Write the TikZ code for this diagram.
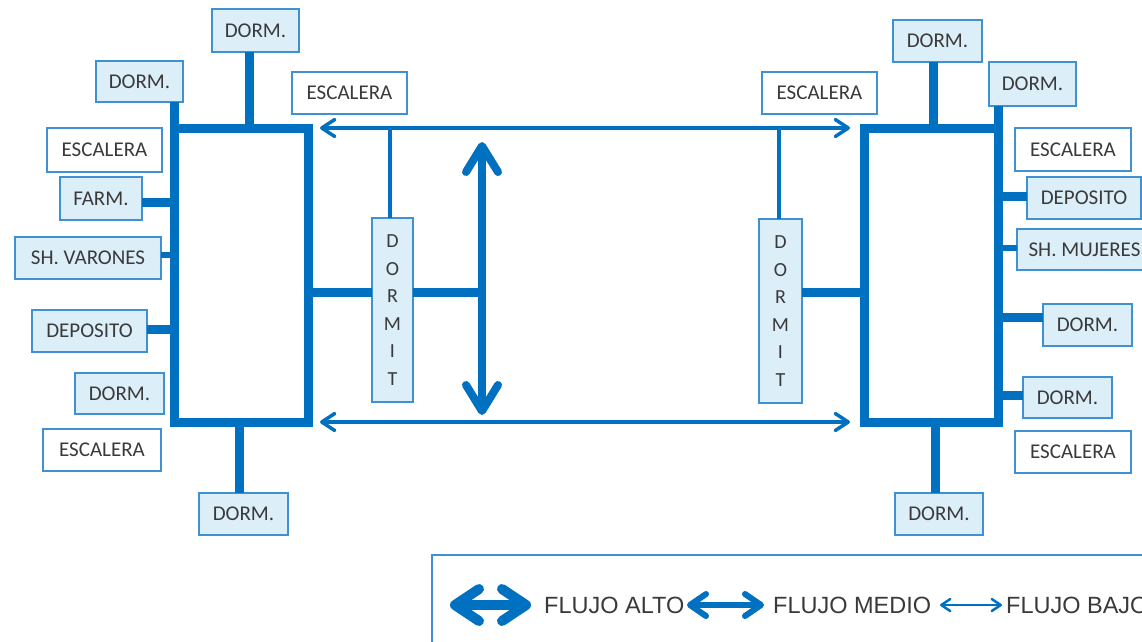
\documentclass[tikz,border=0pt]{standalone}
\usepackage{fontspec}
\setmainfont{Carlito}
\newfontfamily\legfont{Liberation Sans}
\usetikzlibrary{arrows.meta}
\definecolor{mainc}{HTML}{0070C0}
\definecolor{boxc}{HTML}{3F91D3}
\definecolor{fillc}{HTML}{DCEFF9}
\definecolor{txtc}{HTML}{3A3A3A}
\begin{document}
\begin{tikzpicture}[x=1pt,y=-1pt,
  room/.style={draw=boxc, line width=1.6pt, fill=fillc, inner sep=0pt, outer sep=0pt,
    text=txtc, font=\fontsize{21}{25}\selectfont, minimum height=42pt},
  stair/.style={room, fill=white},
  vroom/.style={room, align=center, font=\fontsize{20}{27.6}\selectfont},
  hall/.style={draw=mainc, line width=9pt, inner sep=0pt, outer sep=0pt,
    minimum width=134pt, minimum height=294pt},
  thickc/.style={draw=mainc, line width=9pt},
  midc/.style={draw=mainc, line width=6.5pt},
  thinline/.style={draw=mainc, line width=4pt},
  flowlow/.style={draw=mainc, line width=3.5pt,
    {Straight Barb[length=13pt,width=17pt,round]}-{Straight Barb[length=13pt,width=17pt,round]}},
  flowhigh/.style={draw=mainc, line width=8pt,
    {Straight Barb[length=26pt,width=32pt,round]}-{Straight Barb[length=26pt,width=32pt,round]}},
  legA/.style={draw=mainc, line width=10pt,
    {Straight Barb[length=24pt,width=32pt,round]}-{Straight Barb[length=24pt,width=32pt,round]}},
  legB/.style={draw=mainc, line width=6pt,
    {Straight Barb[length=16pt,width=22pt,round]}-{Straight Barb[length=16pt,width=22pt,round]}},
  legC/.style={draw=mainc, line width=2.5pt,
    {Straight Barb[length=9pt,width=12pt,round]}-{Straight Barb[length=9pt,width=12pt,round]}},
  legtext/.style={anchor=west, inner sep=0pt, text=txtc, font=\legfont\fontsize{23.5}{26}\selectfont}
]
\useasboundingbox (0,0) rectangle (1142,641);
\clip (0,0) rectangle (1142,641);

% ---------- left wing ----------
\node[hall] (lR) at (241,275) {};
\node[room, minimum width=87pt, minimum height=43pt] (lDt) at (255.5,30.5) {DORM.};
\node[room, minimum width=87pt, minimum height=41pt] (lDl) at (139.5,81.5) {DORM.};
\node[stair, minimum width=115pt, minimum height=44pt] (lE1) at (104.5,150) {ESCALERA};
\node[room, minimum width=82pt, minimum height=43pt] (lF) at (101,198.5) {FARM.};
\node[room, minimum width=146pt] (lSH) at (88,258) {SH. VARONES};
\node[room, minimum width=115pt] (lDep) at (89.5,331) {DEPOSITO};
\node[room, minimum width=89pt, minimum height=41pt] (lDl2) at (119.5,393.5) {DORM.};
\node[stair, minimum width=118pt] (lE2) at (102,450) {ESCALERA};
\node[room, minimum width=89pt] (lDb) at (243.5,514) {DORM.};

\draw[thickc] (lDl.south -| lR.west) -- (lR.north west);
\draw[thickc] ([xshift=-6pt]lDt.south) -- ([xshift=-6pt]lDt.south |- lR.north);
\draw[thickc] ([yshift=-3.5pt]lF.east) -- ([yshift=-3.5pt]lF.east -| lR.west);
\draw[midc] ([yshift=3pt]lSH.east) -- ([yshift=3pt]lSH.east -| lR.west);
\draw[thickc] ([yshift=2pt]lDep.east) -- ([yshift=2pt]lDep.east -| lR.west);
\draw[thickc] ([xshift=-4pt]lDb.north) -- ([xshift=-4pt]lDb.north |- lR.south);

% ---------- centre ----------
\node[stair, minimum width=115pt] (lEm) at (349.5,93) {ESCALERA};
\node[vroom, minimum width=41pt, minimum height=184pt] (lDM) at (392.5,310) {D\\O\\R\\M\\I\\T};
\node[stair, minimum width=115pt] (rEm) at (819.5,93) {ESCALERA};
\node[vroom, minimum width=43pt, minimum height=184pt] (rDM) at (780.5,311) {D\\O\\R\\M\\I\\T};
\node[hall] (rR) at (931,275) {};

\coordinate (lmid) at (482,292);
\coordinate (bigT) at (482,142);
\coordinate (bigB) at (482,415);
\draw[thickc] (lR.east |- lmid) -- (lDM.west |- lmid);
\draw[thickc] (lDM.east |- lmid) -- (lmid);
\draw[flowhigh] (bigT) -- (bigB);
\draw[flowlow] ([xshift=12pt]lR.north east) -- ([xshift=-14pt]rR.north west);
\draw[flowlow] ([xshift=12pt]lR.south east) -- ([xshift=-14pt]rR.south west);
\draw[thinline] ([xshift=-3pt]lDM.north) -- ([xshift=-3pt]lDM.north |- lR.north);
\draw[thinline] ([xshift=-1.5pt]rDM.north) -- ([xshift=-1.5pt]rDM.north |- rR.north);
\draw[thickc] (rDM.east |- lmid) -- (rR.west |- lmid);

% ---------- right wing ----------
\node[room, minimum width=89pt] (rDt) at (937.5,41) {DORM.};
\node[room, minimum width=87pt, minimum height=44pt] (rDr) at (1032.5,84) {DORM.};
\node[stair, minimum width=116pt, minimum height=43pt] (rE1) at (1073,149.5) {ESCALERA};
\node[room, minimum width=114pt] (rDep) at (1084,198) {DEPOSITO};
\node[room, minimum width=135pt, minimum height=41pt] (rSH) at (1084.5,249.5) {SH. MUJERES};
\node[room, minimum width=89pt] (rD3) at (1087.5,325) {DORM.};
\node[room, minimum width=89pt, minimum height=41pt] (rD4) at (1067.5,397.5) {DORM.};
\node[stair, minimum width=116pt] (rE2) at (1073,452) {ESCALERA};
\node[room, minimum width=88pt] (rDb) at (939,514) {DORM.};

\draw[thickc] (rDr.south -| rR.east) -- (rR.north east);
\draw[thickc] ([xshift=-4.5pt]rDt.south) -- ([xshift=-4.5pt]rDt.south |- rR.north);
\draw[thickc] ([yshift=2pt]rDep.west) -- ([yshift=2pt]rDep.west -| rR.east);
\draw[midc] ([yshift=1.5pt]rSH.west) -- ([yshift=1.5pt]rSH.west -| rR.east);
\draw[thickc] ([yshift=8pt]rD3.west) -- ([yshift=8pt]rD3.west -| rR.east);
\draw[thickc] ([yshift=2.5pt]rD4.west) -- ([yshift=2.5pt]rD4.west -| rR.east);
\draw[thickc] ([xshift=-4pt]rDb.north) -- ([xshift=-4pt]rDb.north |- rR.south);

% ---------- legend ----------
\node[draw=boxc, line width=2.5pt, fill=white, inner sep=0pt, outer sep=0pt,
  minimum width=800pt, minimum height=150pt, anchor=north west] (leg) at (432,555) {};
\coordinate (a1l) at (450,605);
\coordinate (a1r) at (531,605);
\coordinate (a2l) at (687,605);
\coordinate (a2r) at (764,605);
\coordinate (a3l) at (940,605);
\coordinate (a3r) at (1002,605);
\draw[legA] (a1l) -- (a1r);
\node[legtext] (t1) at (544,605) {FLUJO ALTO};
\draw[legB] (a2l) -- (a2r);
\node[legtext] (t2) at (773,605) {FLUJO MEDIO};
\draw[legC] (a3l) -- (a3r);
\node[legtext] (t3) at (1006,605) {FLUJO BAJO};
\end{tikzpicture}
\end{document}
